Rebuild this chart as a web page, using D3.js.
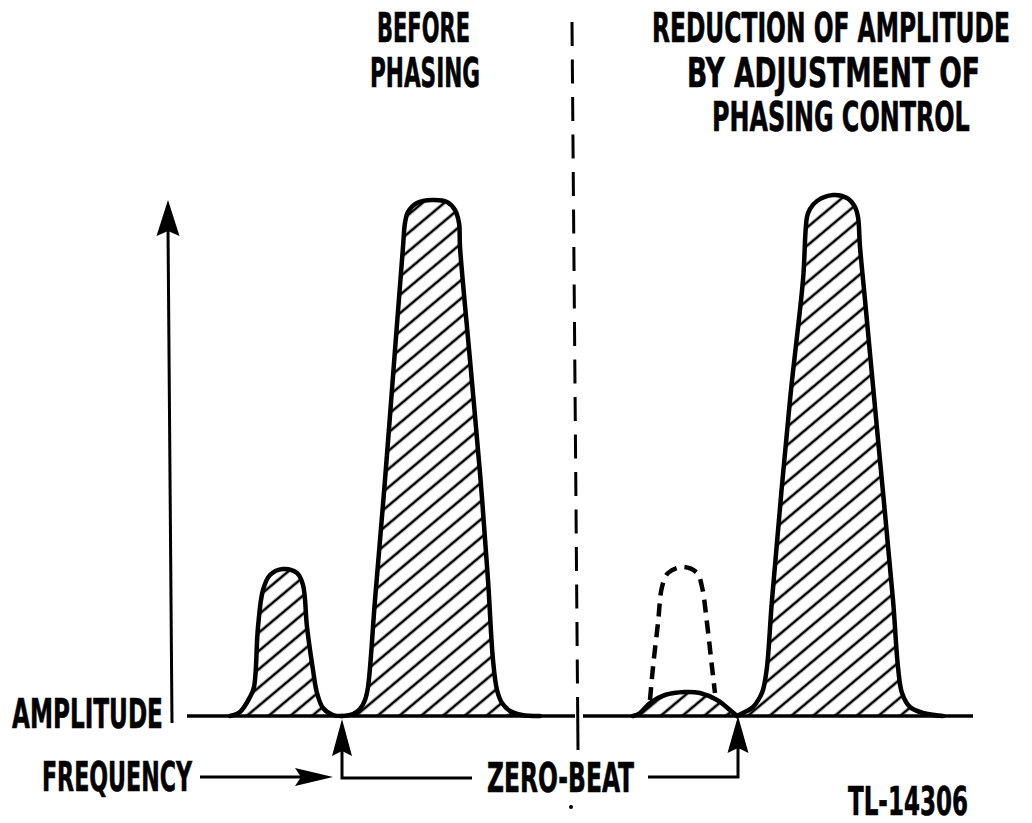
<!DOCTYPE html>
<html><head><meta charset="utf-8">
<script src="https://cdn.jsdelivr.net/npm/d3@7"></script>
<style>html,body{margin:0;padding:0;background:#fff;} svg{display:block;}</style>
</head><body>
<svg id="chart" width="1032" height="823"></svg>
<script>
// ---------- DATA (frequency units, amplitude units) ----------
const titleBefore = ["BEFORE", "PHASING"];
const titleAfter = ["REDUCTION OF AMPLITUDE", "BY ADJUSTMENT OF", "PHASING CONTROL"];
const axisYLabel = "AMPLITUDE";
const axisXLabel = "FREQUENCY";
const zeroBeatLabel = "ZERO-BEAT";
const figureId = "TL-14306";

// before phasing: unwanted (small) sideband and wanted (large) signal
const peakBeforeSmall = [[43,0],[53,4],[63,19],[67,29],[71,89],[76,126],[83,141],[96,147],[110,143],[116,131],[120,89],[126,46],[130,23],[136,8],[146,1],[155,0]];
const peakBeforeLarge = [[155,0],[166,2],[173,7],[178,16],[181,29],[188,116],[198,236],[208,366],[216,469],[218,493],[221,504],[230,513],[245,516],[260,514],[268,506],[272,493],[273,469],[283,356],[293,243],[301,136],[306,56],[310,26],[315,13],[323,5],[335,1],[353,0]];
// after phasing: reduced sideband, original outline (dashed), large signal
const peakAfterReduced = [[446,0],[453,3],[463,13],[478,21],[498,24],[513,23],[530,16],[543,6],[550,0]];
const peakAfterOriginal = [[463,16],[466,49],[471,93],[475,129],[481,143],[496,149],[510,143],[515,129],[520,93],[525,49],[528,23]];
const peakAfterLarge = [[550,0],[556,3],[566,9],[573,19],[576,26],[580,49],[585,116],[603,316],[616,436],[620,499],[623,507],[630,515],[646,521],[660,518],[668,509],[671,499],[673,469],[678,416],[692,266],[706,116],[711,49],[715,23],[723,9],[736,3],[756,0]];
// zero-beat frequencies
const zeroBeats = [155, 551];

// ---------- SCALES ----------
const svg = d3.select("#chart");
const x = d3.scaleLinear().domain([0, 786]).range([187, 973]);
const y = d3.scaleLinear().domain([0, 520]).range([716, 196]);

svg.append("rect").attr("width", 1032).attr("height", 823).attr("fill", "#fff");

const defs = svg.append("defs");
const pat = defs.append("pattern").attr("id", "hatch")
  .attr("patternUnits", "userSpaceOnUse").attr("width", 14).attr("height", 14)
  .attr("patternTransform", "rotate(50)");
pat.append("line").attr("x1", 7).attr("y1", -1).attr("x2", 7).attr("y2", 15)
  .attr("stroke", "#000").attr("stroke-width", 2.6);

const curve = d3.curveCatmullRom.alpha(0.5);
const area = d3.area().x(d => x(d[0])).y0(y(0)).y1(d => y(d[1])).curve(curve);
const line = d3.line().x(d => x(d[0])).y(d => y(d[1])).curve(curve);

const ink = "#000";

// hatched fills
[peakBeforeSmall, peakBeforeLarge, peakAfterReduced, peakAfterLarge].forEach(p => {
  svg.append("path").attr("d", area(p)).attr("fill", "url(#hatch)");
});
// outlines
[peakBeforeSmall, peakBeforeLarge, peakAfterReduced, peakAfterLarge].forEach(p => {
  svg.append("path").attr("d", line(p)).attr("fill", "none").attr("stroke", ink)
    .attr("stroke-width", 4.5).attr("stroke-linejoin", "round").attr("stroke-linecap", "round");
});
// dashed original sideband
svg.append("path").attr("d", line(peakAfterOriginal)).attr("fill", "none").attr("stroke", ink)
  .attr("stroke-width", 4.5).attr("stroke-dasharray", "13 8").attr("stroke-linecap", "butt");

// baseline (broken at the divider)
svg.append("line").attr("x1", x(0)).attr("x2", 575).attr("y1", y(0)).attr("y2", y(0))
  .attr("stroke", ink).attr("stroke-width", 3.5);
svg.append("line").attr("x1", 583).attr("x2", x(786)).attr("y1", y(0)).attr("y2", y(0))
  .attr("stroke", ink).attr("stroke-width", 3.5);

// arrowhead helper
function arrowHead(tx, ty, dx, dy, L, W, n) {
  const bx = tx - L * dx, by = ty - L * dy;
  const px = -dy, py = dx;
  return `M${tx},${ty}L${bx + W * px},${by + W * py}L${bx + n * dx},${by + n * dy}L${bx - W * px},${by - W * py}Z`;
}

// amplitude axis (vertical arrow)
svg.append("line").attr("x1", 172).attr("y1", y(-7)).attr("x2", 168).attr("y2", 228)
  .attr("stroke", ink).attr("stroke-width", 3);
svg.append("path").attr("d", arrowHead(168, 200, 0, -1, 36, 11.5, 5)).attr("fill", ink);

// frequency arrow
svg.append("line").attr("x1", 200).attr("y1", 777).attr("x2", 305).attr("y2", 777)
  .attr("stroke", ink).attr("stroke-width", 3);
svg.append("path").attr("d", arrowHead(333, 777, 1, 0, 38, 9, 6)).attr("fill", ink);

// zero-beat arrows
const zbLeft = x(zeroBeats[0]), zbRight = x(zeroBeats[1]);
svg.append("path").attr("d", `M${zbLeft},748V778H472`).attr("fill", "none")
  .attr("stroke", ink).attr("stroke-width", 3).attr("stroke-linejoin", "miter");
svg.append("path").attr("d", arrowHead(zbLeft, y(0) + 3, 0, -1, 37, 10, 5)).attr("fill", ink);
svg.append("path").attr("d", `M648,777H${zbRight}V746`).attr("fill", "none")
  .attr("stroke", ink).attr("stroke-width", 3).attr("stroke-linejoin", "miter");
svg.append("path").attr("d", arrowHead(zbRight, y(0), 0, -1, 37, 10.5, 5)).attr("fill", ink);

// divider (dashed)
const divX = d3.scaleLinear().domain([22, 750]).range([572, 578]);
svg.append("line").attr("x1", divX(22)).attr("y1", 22).attr("x2", divX(697)).attr("y2", 697)
  .attr("stroke", ink).attr("stroke-width", 3).attr("stroke-dasharray", "24 13.5");
svg.append("line").attr("x1", divX(697)).attr("y1", 697).attr("x2", divX(750)).attr("y2", 750)
  .attr("stroke", ink).attr("stroke-width", 3);
svg.append("circle").attr("cx", 571).attr("cy", 807).attr("r", 2).attr("fill", ink);

// labels: each is fitted horizontally to the reference width via a scale transform
const labels = [
  {t: titleBefore[0], x: 377, y: 42, w: 93},
  {t: titleBefore[1], x: 370, y: 87, w: 110},
  {t: titleAfter[0], x: 652, y: 42, w: 358},
  {t: titleAfter[1], x: 687, y: 87, w: 293},
  {t: titleAfter[2], x: 712, y: 131, w: 258},
  {t: axisYLabel, x: 12, y: 728, w: 151},
  {t: axisXLabel, x: 42, y: 791, w: 150},
  {t: zeroBeatLabel, x: 487, y: 792, w: 147},
  {t: figureId, x: 848, y: 815, w: 120, s: 39}
];
const g = svg.selectAll("g.lbl").data(labels).join("g").attr("class", "lbl");
const txt = g.append("text").attr("x", 0).attr("y", 0)
  .attr("font-family", "'Liberation Sans Narrow','DejaVu Sans Condensed','Roboto Condensed','Liberation Sans',sans-serif")
  .attr("font-weight", "bold").attr("font-size", d => d.s || 41).attr("fill", ink)
  .attr("stroke", ink).attr("stroke-width", 0.6)
  .text(d => d.t);
txt.each(function(d) {
  const nat = this.getComputedTextLength();
  const sx = d.w / nat;
  d3.select(this.parentNode).attr("transform", `translate(${d.x},${d.y}) scale(${sx},1)`);
});
</script>
</body></html>
